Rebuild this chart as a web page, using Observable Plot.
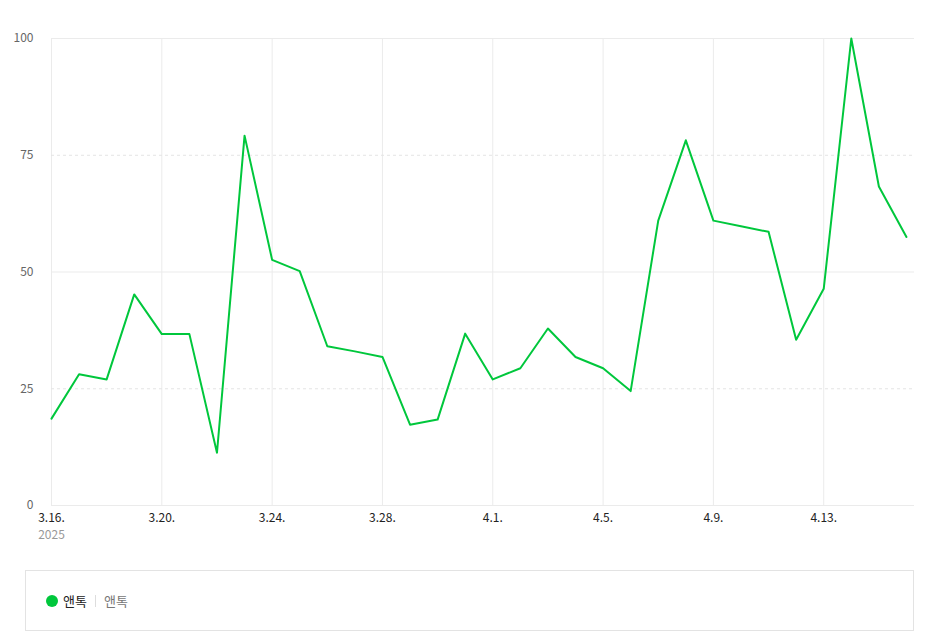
<!DOCTYPE html>
<html>
<head>
<meta charset="utf-8">
<script src="https://cdn.jsdelivr.net/npm/d3@7"></script>
<script src="https://cdn.jsdelivr.net/npm/@observablehq/plot@0.6"></script>
<style>
  body { margin: 0; background: #fff; font-family: "Noto Sans CJK KR", "Noto Sans", sans-serif; }
  #chart svg { display: block; }
  .legend { position: absolute; left: 25px; top: 570px; width: 887px; height: 59px; border: 1px solid #e3e3e3; box-sizing: content-box; display: flex; align-items: center; font-size: 13px; font-weight: 400; }
  .legend .dot { width: 12px; height: 12px; border-radius: 50%; background: #00c73c; margin-left: 20px; margin-right: 5px; }
  .legend .name { color: #222; font-weight: 400; }
  .legend .sep { width: 1px; height: 12px; background: #ddd; margin: 0 8px; }
  .legend .sub { color: #777; font-weight: 400; }
</style>
</head>
<body>
<div id="chart"></div>
<div class="legend"><span class="dot"></span><span class="name" id="lgName"></span><span class="sep"></span><span class="sub" id="lgSub"></span></div>
<script>
const seriesName = "앤톡";
const dates = [
  "2025-03-16","2025-03-17","2025-03-18","2025-03-19","2025-03-20","2025-03-21","2025-03-22","2025-03-23",
  "2025-03-24","2025-03-25","2025-03-26","2025-03-27","2025-03-28","2025-03-29","2025-03-30","2025-03-31",
  "2025-04-01","2025-04-02","2025-04-03","2025-04-04","2025-04-05","2025-04-06","2025-04-07","2025-04-08",
  "2025-04-09","2025-04-10","2025-04-11","2025-04-12","2025-04-13","2025-04-14","2025-04-15","2025-04-16"
];
const values = [
  18.6, 28.1, 27.0, 45.2, 36.7, 36.7, 11.3, 79.2,
  52.6, 50.2, 34.1, 33.0, 31.8, 17.3, 18.4, 36.8,
  27.0, 29.4, 37.9, 31.8, 29.4, 24.5, 61.0, 78.2,
  61.0, 59.8, 58.6, 35.5, 46.4, 100, 68.3, 57.5
];
const yTicksSolid = [0, 50, 100];
const yTicksDashed = [25, 75];
const yTickLabels = [0, 25, 50, 75, 100];
const xTickDates = ["2025-03-16","2025-03-20","2025-03-24","2025-03-28","2025-04-01","2025-04-05","2025-04-09","2025-04-13"];
const yearLabel = [{date: "2025-03-16", label: "2025"}];

const parse = d3.timeParse("%Y-%m-%d");
const data = dates.map((d, i) => ({date: parse(d), value: values[i]}));
const xTicks = xTickDates.map(parse);
const fmt = d => `${d.getMonth() + 1}.${d.getDate()}.`;

document.getElementById("lgName").textContent = seriesName;
document.getElementById("lgSub").textContent = seriesName;

const chart = Plot.plot({
  width: 944,
  height: 555,
  marginTop: 38,
  marginBottom: 50,
  marginLeft: 51,
  marginRight: 30,
  style: {fontFamily: '"Noto Sans CJK KR", "Noto Sans", sans-serif', fontSize: "12px", color: "#333"},
  x: {type: "time", domain: [parse("2025-03-16"), new Date(2025, 3, 16, 7)]},
  y: {domain: [0, 100]},
  marks: [
    Plot.ruleX(xTicks, {stroke: "#ebebeb", strokeWidth: 1}),
    Plot.ruleY(yTicksSolid, {stroke: "#ebebeb", strokeWidth: 1}),
    Plot.ruleY(yTicksDashed, {stroke: "#e4e4e4", strokeWidth: 1, strokeDasharray: "3,3"}),
    Plot.axisY({ticks: yTickLabels, tickSize: 0, tickPadding: 18, label: null, fill: "#666", fontSize: 12}),
    Plot.axisX({ticks: xTicks, tickSize: 0, tickPadding: 8, tickFormat: fmt, label: null, fill: "#222", fontSize: 12}),
    Plot.text(yearLabel, {x: d => parse(d.date), y: 0, text: "label", dy: 30, fill: "#999", fontSize: 12}),
    Plot.line(data, {x: "date", y: "value", stroke: "#00c73c", strokeWidth: 2})
  ]
});
document.getElementById("chart").append(chart);
</script>
</body>
</html>
